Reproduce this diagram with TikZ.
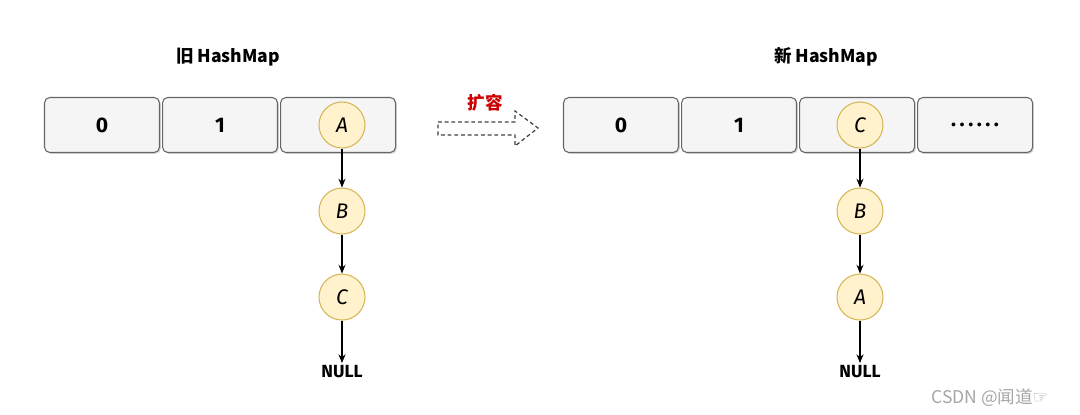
\documentclass[tikz,border=0pt]{standalone}
\usepackage{fontspec}
\setmainfont{Fira Sans}
\newfontfamily\cjk{Noto Sans CJK SC}
\newfontfamily\wmfont{DejaVu Sans}
\usetikzlibrary{positioning,shadows,arrows.meta}
\definecolor{cellfill}{HTML}{F5F5F5}
\definecolor{celldraw}{HTML}{666666}
\definecolor{elemfill}{HTML}{FFF2CC}
\definecolor{elemdraw}{HTML}{D6B656}
\definecolor{expred}{HTML}{CC0000}
\tikzset{
  cell/.style={draw=celldraw, fill=cellfill, rounded corners=3pt, line width=0.6pt,
    minimum width=2.3cm, minimum height=1.1cm, font=\large\bfseries,
    drop shadow={opacity=0.3, shadow xshift=0.8pt, shadow yshift=-0.8pt}},
  elem/.style={circle, draw=elemdraw, fill=elemfill, line width=0.6pt,
    minimum size=0.92cm, inner sep=0pt, font=\large\itshape},
  link/.style={->, >={Stealth[length=5pt,width=4pt]}, line width=0.6pt},
  title/.style={font=\cjk\bfseries}
}
\begin{document}
\begin{tikzpicture}[x=0.02cm, y=-0.02cm, node distance=0.78cm]
\useasboundingbox (0,0) rectangle (1080,415);

% old table
\node[title] (oldt) at (228,57) {旧 HashMap};
\node[cell] (o0) at (102,125) {0};
\node[cell, right=0.04cm of o0] (o1) {1};
\node[cell, right=0.04cm of o1] (o2) {};
\node[elem] (oa) at (342,125) {A};
\node[elem, below=of oa] (ob) {B};
\node[elem, below=of ob] (oc) {C};
\node[font=\bfseries, inner sep=1pt, below=0.85cm of oc] (onull) {NULL};
\draw[link] (oa) -- (ob);
\draw[link] (ob) -- (oc);
\draw[link] (oc) -- (onull);

% resize arrow
\coordinate (r0) at (438,122);
\draw[dash pattern=on 2.2pt off 1.6pt, line width=0.7pt, black!75]
  (r0) -- ++(77,0) -- ++(0,-11) -- (538,128) -- (515,146) -- ++(0,-11) -- (438,135) -- cycle;
\node[font=\cjk\bfseries, text=expred] (rlab) at (485,103) {扩容};

% new table
\node[title] (newt) at (826,57) {新 HashMap};
\node[cell] (n0) at (621,125) {0};
\node[cell, right=0.04cm of n0] (n1) {1};
\node[cell, right=0.04cm of n1] (n2) {};
\node[cell, right=0.04cm of n2] (n3) {.\,.\,.\,.\,.\,.};
\node[elem] (nc) at (860,125) {C};
\node[elem, below=of nc] (nb) {B};
\node[elem, below=of nb] (na) {A};
\node[font=\bfseries, inner sep=1pt, below=0.85cm of na] (nnull) {NULL};
\draw[link] (nc) -- (nb);
\draw[link] (nb) -- (na);
\draw[link] (na) -- (nnull);

\node[font=\cjk, text=black!35] (mark) at (990,398) {CSDN @闻道{\wmfont ☞}};
\end{tikzpicture}
\end{document}
